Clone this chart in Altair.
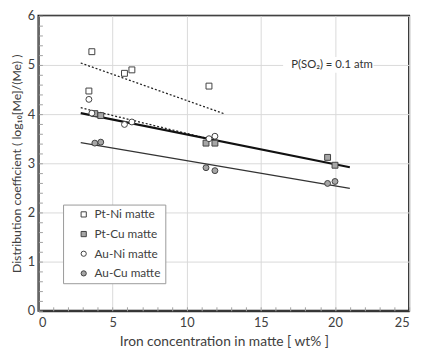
import altair as alt
import pandas as pd

series_names = ["Pt-Ni matte", "Pt-Cu matte", "Au-Ni matte", "Au-Cu matte"]
series_shapes = ["square", "square", "circle", "circle"]
series_fills = ["#ffffff", "#a6a6a6", "#ffffff", "#a6a6a6"]
series_strokes = ["#404040", "#404040", "#404040", "#404040"]

ptni_x = [3.4, 3.6, 5.8, 6.3, 11.5]
ptni_y = [4.47, 5.27, 4.83, 4.90, 4.57]
ptcu_x = [3.8, 4.2, 11.3, 11.9, 19.5, 20.0]
ptcu_y = [4.01, 3.97, 3.41, 3.41, 3.12, 2.96]
auni_x = [3.4, 3.6, 5.8, 6.3, 11.5, 11.9]
auni_y = [4.30, 4.02, 3.79, 3.84, 3.50, 3.55]
aucu_x = [3.8, 4.2, 11.3, 11.9, 19.5, 20.0]
aucu_y = [3.41, 3.43, 2.91, 2.85, 2.59, 2.63]

# trend lines (end points)
fit_ptni_x = [2.85, 12.5]
fit_ptni_y = [5.04, 4.01]
fit_auni_x = [2.85, 12.0]
fit_auni_y = [4.13, 3.46]
fit_ptcu_x = [2.85, 21.0]
fit_ptcu_y = [4.02, 2.92]
fit_aucu_x = [2.85, 21.0]
fit_aucu_y = [3.42, 2.49]

x_ticks = [0, 5, 10, 15, 20, 25]
y_ticks = [0, 1, 2, 3, 4, 5, 6]
x_minor = list(range(0, 26))
y_minor = [round(i * 0.2, 1) for i in range(0, 31)]

note_text = "P(SO\u2082) = 0.1 atm"
note_x = [19.8]
note_y = [5.0]
note_box_x = [16.5, 22.6]
note_box_y = [4.84, 5.16]

FONT = "Lato"
W, H = 377, 300

rows = []
for name, xs, ys in [
    (series_names[0], ptni_x, ptni_y),
    (series_names[1], ptcu_x, ptcu_y),
    (series_names[2], auni_x, auni_y),
    (series_names[3], aucu_x, aucu_y),
]:
    for a, b in zip(xs, ys):
        rows.append({"series": name, "x": a, "y": b})
pts = pd.DataFrame(rows)

xs_scale = alt.Scale(domain=[0, 25], nice=False)
ys_scale = alt.Scale(domain=[0, 6], nice=False)

legend = alt.Legend(
    title=None, orient="none", legendX=25, legendY=192, padding=4,
    symbolOffset=11, rowPadding=8, labelOffset=5, labelFontSize=12,
    labelFont=FONT, labelColor="#404040", strokeColor="#999999",
    fillColor="#ffffff", symbolStrokeWidth=1,
    symbolSize=28, labelExpr="datum.label + '\u2003\u2003'",
)

points = alt.Chart(pts).mark_point(filled=True, strokeWidth=1, size=36, opacity=1).encode(
    x=alt.X("x:Q", scale=xs_scale, axis=alt.Axis(
        values=x_ticks, grid=True, gridColor="#d9d9d9", ticks=False,
        domainColor="#333333", domainWidth=2, labelFontSize=13, labelColor="#404040",
        labelPadding=6, labelFont=FONT, title="Iron concentration in matte [ wt% ]",
        titleFontSize=14, titleFontWeight="normal", titleColor="#404040",
        titlePadding=5, titleFont=FONT)),
    y=alt.Y("y:Q", scale=ys_scale, axis=alt.Axis(
        values=y_ticks, grid=True, gridColor="#d9d9d9", ticks=False,
        domainColor="#666666", domainWidth=2, labelFontSize=13, labelColor="#404040",
        labelPadding=4, labelFont=FONT,
        title="Distribution coefficient ( log\u2081\u2080[Me]/(Me) )",
        titleFontSize=12.5, titleFontWeight="normal", titleColor="#404040",
        titlePadding=4, titleFont=FONT)),
    shape=alt.Shape("series:N", scale=alt.Scale(domain=series_names, range=series_shapes), legend=legend),
    fill=alt.Fill("series:N", scale=alt.Scale(domain=series_names, range=series_fills), legend=legend),
    stroke=alt.Stroke("series:N", scale=alt.Scale(domain=series_names, range=series_strokes), legend=legend),
)


def line_layer(xs, ys, width, dash, color):
    df = pd.DataFrame({"x": xs, "y": ys})
    kw = dict(strokeWidth=width, color=color)
    if dash:
        kw["strokeDash"] = dash
    return alt.Chart(df).mark_line(**kw).encode(
        x=alt.X("x:Q", scale=xs_scale, axis=None),
        y=alt.Y("y:Q", scale=ys_scale, axis=None),
    )


lines = [
    line_layer(fit_ptni_x, fit_ptni_y, 1.3, [2, 2], "#222222"),
    line_layer(fit_auni_x, fit_auni_y, 1.3, [2, 2], "#222222"),
    line_layer(fit_ptcu_x, fit_ptcu_y, 2.2, None, "#111111"),
    line_layer(fit_aucu_x, fit_aucu_y, 1.2, None, "#333333"),
]

box_df = pd.DataFrame({"x": [note_box_x[0]], "x2": [note_box_x[1]], "y": [note_box_y[0]], "y2": [note_box_y[1]]})
box = alt.Chart(box_df).mark_rect(color="#ffffff").encode(
    x=alt.X("x:Q", scale=xs_scale, axis=None), x2="x2:Q",
    y=alt.Y("y:Q", scale=ys_scale, axis=None), y2="y2:Q",
)

note_df = pd.DataFrame({"x": note_x, "y": note_y, "t": [note_text]})
note = alt.Chart(note_df).mark_text(font=FONT, fontSize=11.5, color="#333333").encode(
    x=alt.X("x:Q", scale=xs_scale, axis=None),
    y=alt.Y("y:Q", scale=ys_scale, axis=None),
    text="t:N",
)

minor = alt.Chart(note_df).mark_point(opacity=0).encode(
    x=alt.X("x:Q", scale=xs_scale, axis=alt.Axis(
        orient="top", offset=-H, values=x_minor, labels=False, domain=False,
        grid=False, ticks=True, tickSize=4, tickColor="#a0a0a0", title=None)),
    y=alt.Y("y:Q", scale=ys_scale, axis=alt.Axis(
        orient="right", offset=-W, values=y_minor, labels=False, domain=False,
        grid=False, ticks=True, tickSize=4, tickColor="#a0a0a0", title=None)),
)

chart = alt.layer(box, *lines, points, note, minor).resolve_axis(
    x="independent", y="independent"
).properties(
    width=W, height=H,
    autosize=alt.AutoSizeParams(type="none"),
    padding={"left": 31, "top": 5, "right": 8, "bottom": 38},
).configure_view(stroke="#1a1a1a", strokeWidth=2)

chart.save("out.html", embed_options={"renderer": "svg", "actions": False})
